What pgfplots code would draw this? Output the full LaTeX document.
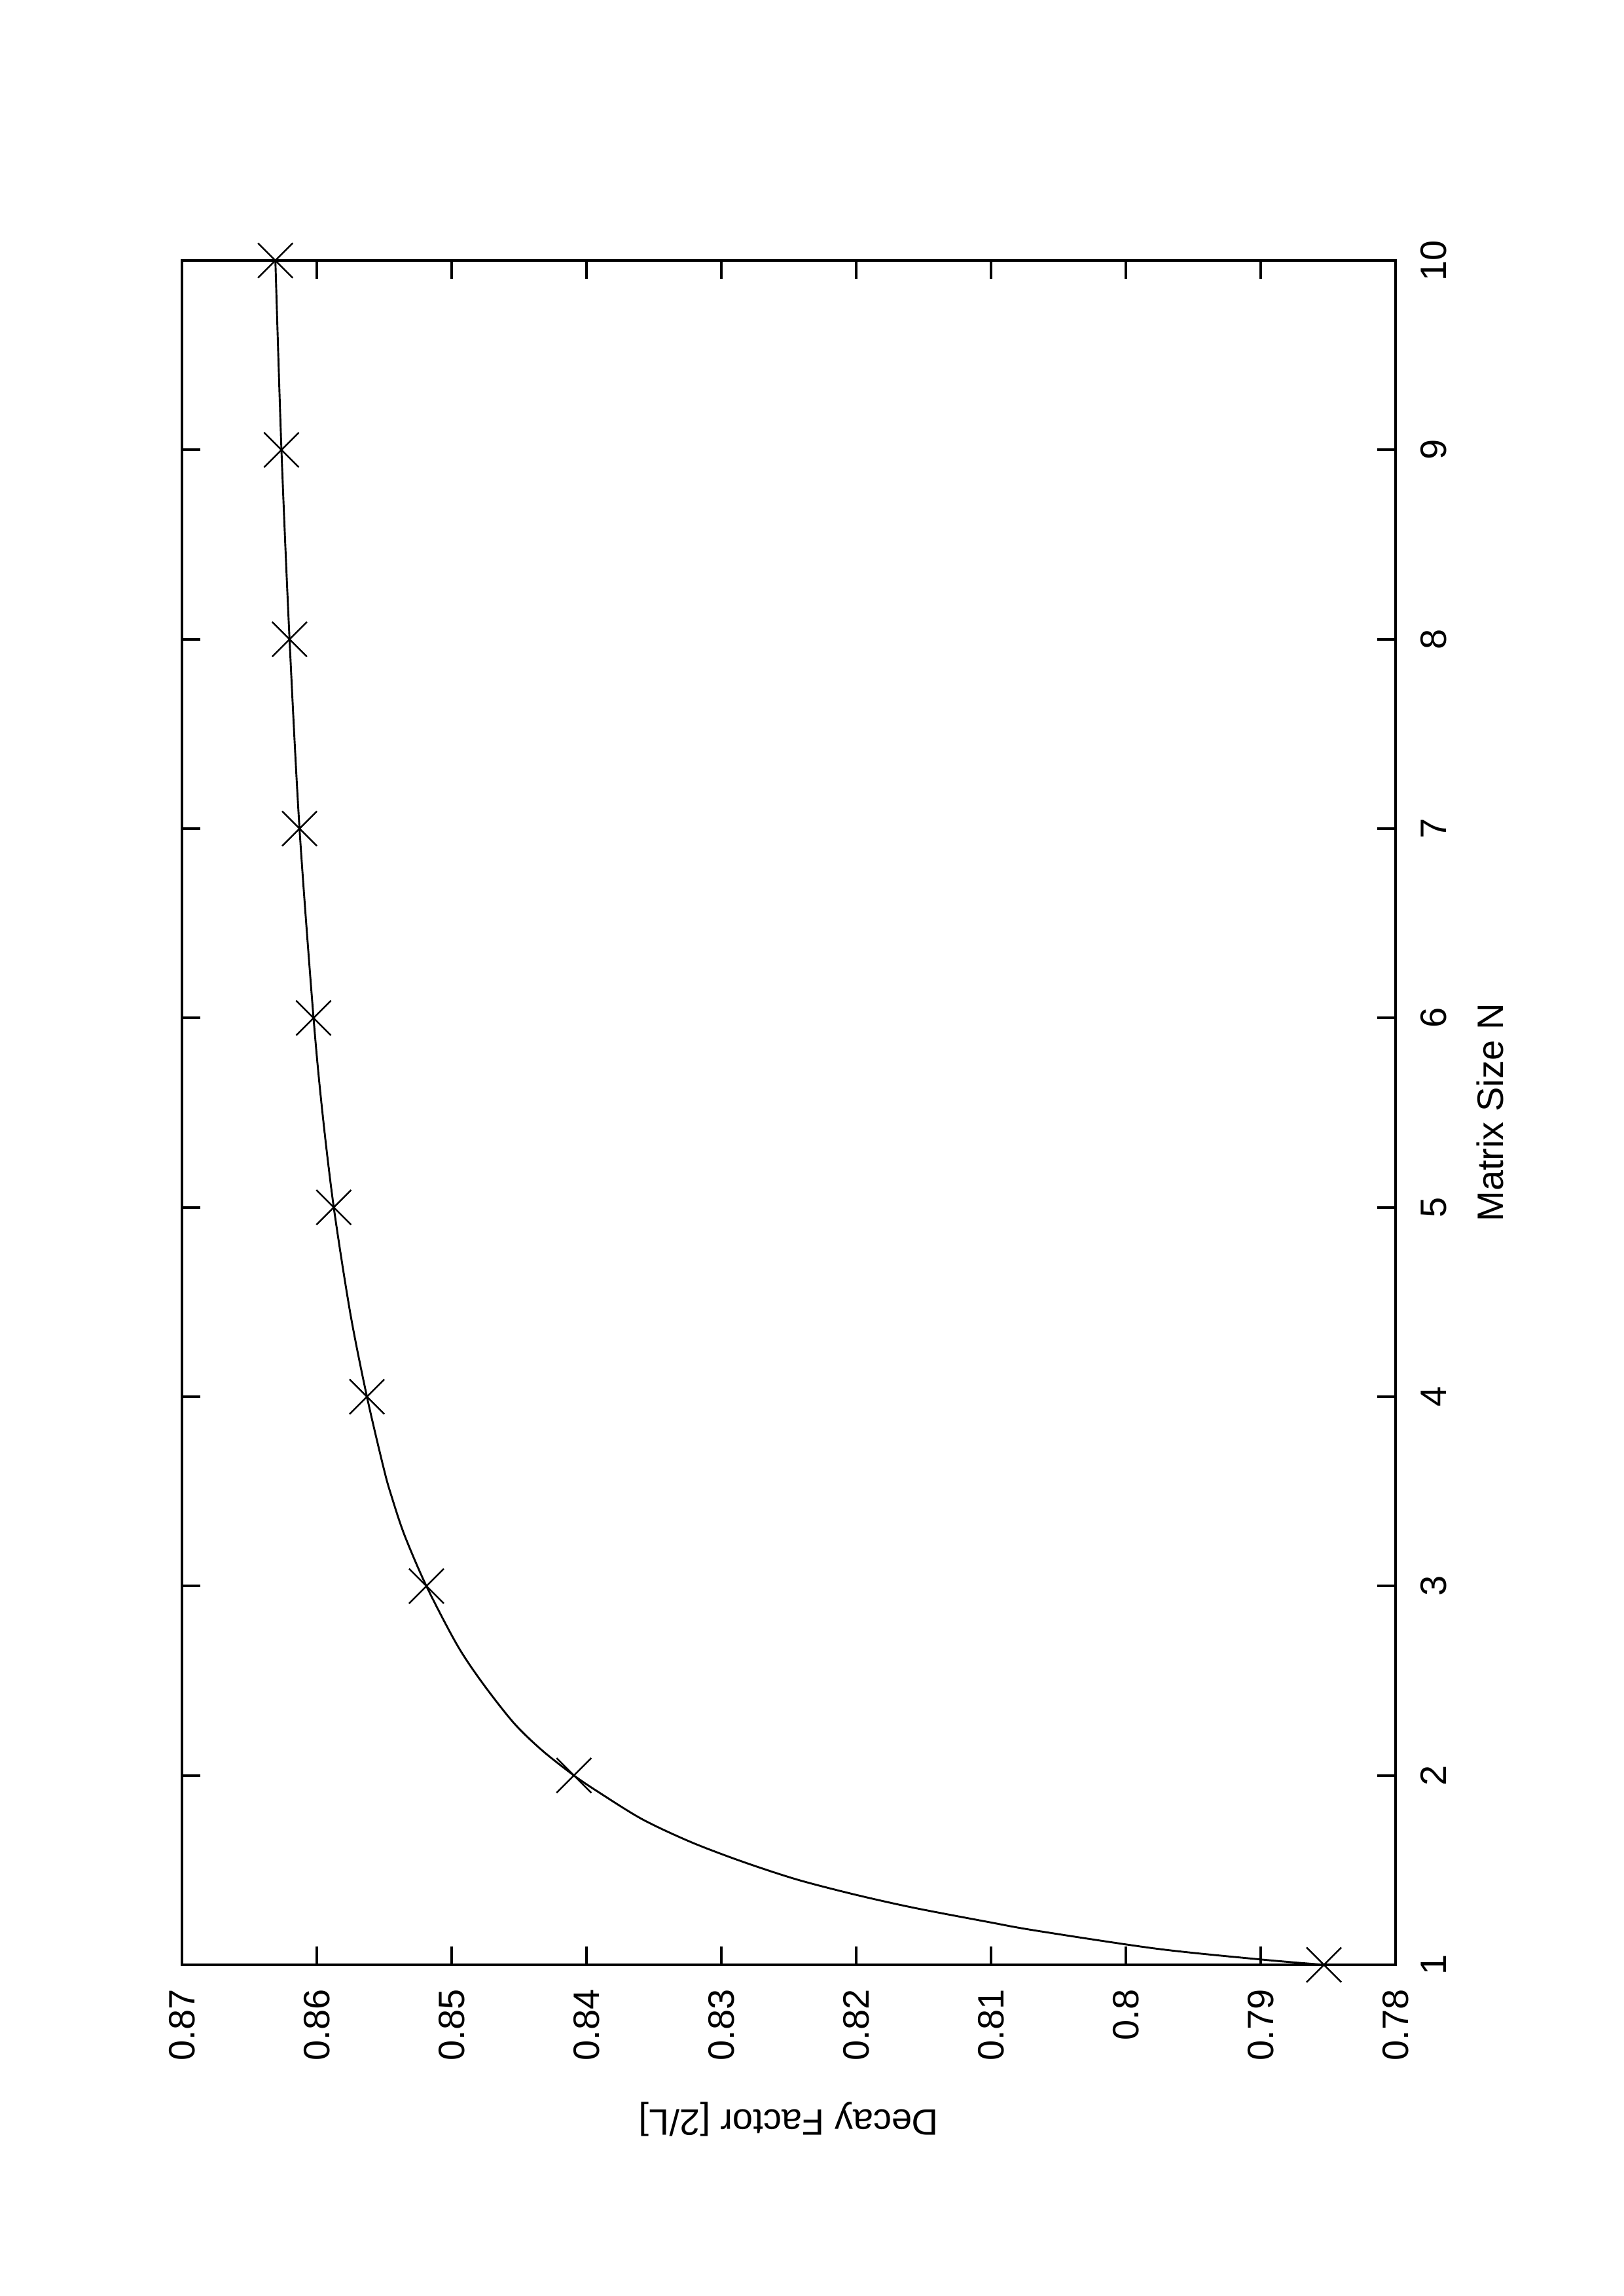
\documentclass[border=0pt]{standalone}
\usepackage{fontspec}
\setmainfont{Liberation Sans}
\usepackage{pgfplots}
\pgfplotsset{compat=1.18}
\begin{document}
\begin{tikzpicture}
\useasboundingbox (0,0) rectangle (210mm,297mm);
\begin{scope}[shift={(180.5mm,42.84mm)},rotate=90,transform shape]
\begin{axis}[
  at={(0,0)}, anchor=south west,
  scale only axis,
  width=220.46mm, height=156.97mm,
  xmin=1, xmax=10, ymin=0.78, ymax=0.87,
  xtick={1,2,3,4,5,6,7,8,9,10},
  xticklabels={1,2,3,4,5,6,7,8,9,10},
  ytick={0.78,0.79,0.80,0.81,0.82,0.83,0.84,0.85,0.86,0.87},
  yticklabels={0.78,0.79,0.8,0.81,0.82,0.83,0.84,0.85,0.86,0.87},
  font=\fontsize{13.5}{16}\selectfont,
  axis line style={line width=1pt},
  tick style={line width=1pt, black},
  major tick length=2.4mm,
  tick align=inside,
  xticklabel style={anchor=north, inner sep=0pt, yshift=-3.2mm},
  yticklabel style={anchor=east, inner sep=0pt, xshift=-3.1mm},
  xlabel={Matrix Size N},
  ylabel={Decay Factor [2/L]},
  xlabel style={at={(axis description cs:0.5,-0.0662)}, anchor=north, inner sep=0pt},
  ylabel style={at={(axis description cs:-0.1011,0.5)}, rotate=0, anchor=north, inner sep=0pt},
  clip=false,
]
\addplot[black, line width=0.7pt, smooth, tension=0.5, no marks] coordinates {
(1.000,0.78531) (1.028,0.78996) (1.085,0.79771) (1.181,0.80670)
(1.226,0.81019) (1.301,0.81571) (1.370,0.82004) (1.450,0.82437)
(1.543,0.82836) (1.646,0.83218) (1.767,0.83582) (1.909,0.83904)
(2.000,0.84093) (2.133,0.84330) (2.278,0.84540) (2.490,0.84773)
(2.690,0.84960) (3.000,0.85187) (3.270,0.85350) (3.473,0.85445)
(3.614,0.85501) (4.000,0.85628) (4.443,0.85752) (5.000,0.85874)
(5.500,0.85958) (6.000,0.86024) (7.000,0.86128) (8.000,0.86202)
(9.000,0.86262) (10.000,0.86307)
};
\addplot[black, only marks, mark=x, mark size=3.18mm, mark options={line width=0.6pt}] coordinates {
(1,0.78531) (2,0.84093) (3,0.85187) (4,0.85628) (5,0.85874)
(6,0.86024) (7,0.86128) (8,0.86202) (9,0.86262) (10,0.86307)
};
\end{axis}
\end{scope}
\end{tikzpicture}
\end{document}
